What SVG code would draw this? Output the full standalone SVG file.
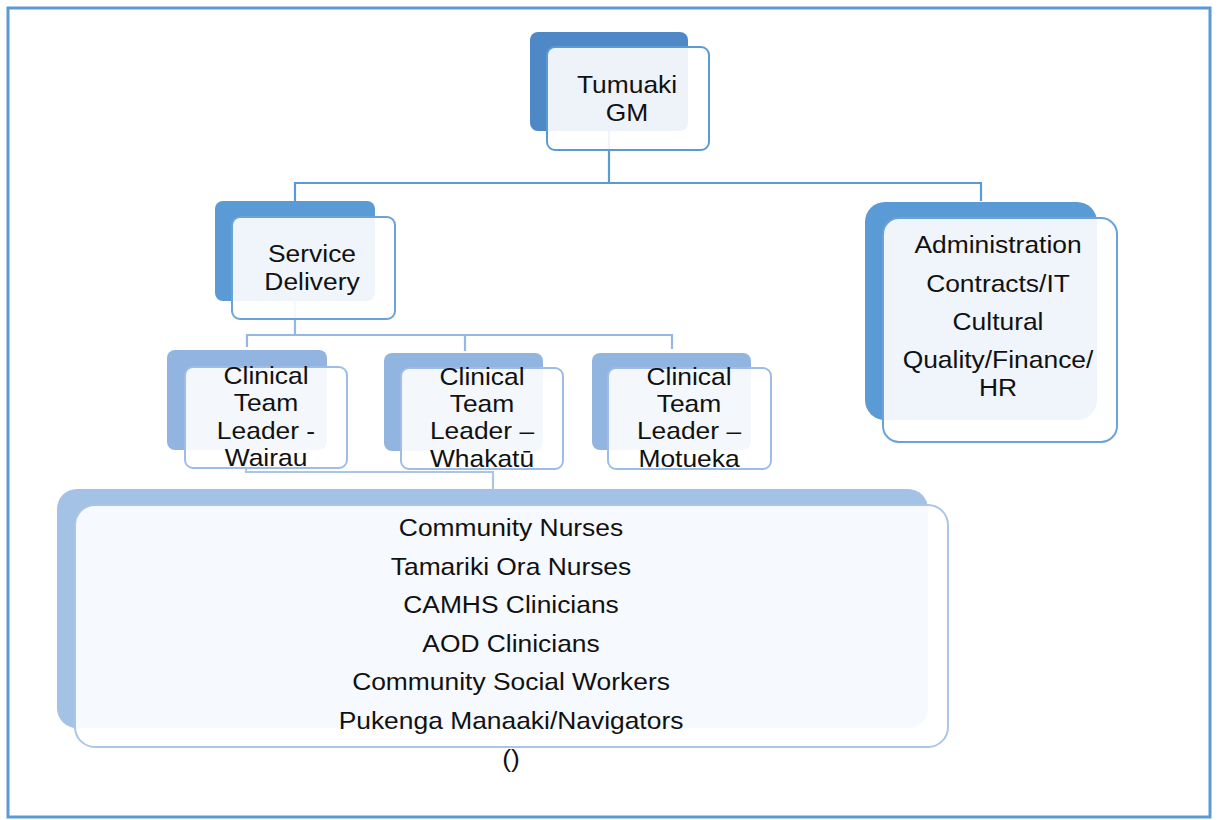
<svg xmlns="http://www.w3.org/2000/svg" width="1218" height="820" viewBox="0 0 1218 820">
  <style>
    .t { font-family: "Liberation Sans", Arial, sans-serif; font-size: 24px; fill: #111; text-anchor: middle; }
    .front { fill: #ffffff; fill-opacity: 0.9; stroke-width: 2; }
    .c1 { fill: none; stroke: #5b9bd5; stroke-width: 2.2; }
    .c2 { fill: none; stroke: #95b8e2; stroke-width: 2.2; }
    .c3 { fill: none; stroke: #a9c6e8; stroke-width: 2.2; }
  </style>

  <!-- frame -->
  <rect x="8" y="8" width="1202" height="809" fill="#ffffff" stroke="#5b9bd5" stroke-width="3"/>

  <!-- connectors -->
  <g id="connectors">
    <path class="c1" d="M609 131 V183 M295 201 V183 H981 V201"/>
    <path class="c2" d="M295 301 V335 M247 347 V335 H672 V349 M465 335 V351"/>
    <path class="c3" d="M246 450 V472 H493 V489"/>
  </g>

  <!-- Tumuaki GM -->
  <g id="node-gm">
    <rect x="530" y="32" width="158" height="99" rx="8" fill="#4f88c6"/>
    <rect class="front" x="547" y="47" width="162" height="103" rx="8" stroke="#5b9bd5"/>
    <text class="t" transform="translate(627 0) scale(1.1 1)"><tspan x="0" y="93">Tumuaki</tspan><tspan x="0" y="121">GM</tspan></text>
  </g>

  <!-- Service Delivery -->
  <g id="node-service">
    <rect x="215" y="201" width="160" height="100" rx="8" fill="#5b9bd5"/>
    <rect class="front" x="232" y="217" width="163" height="102" rx="8" stroke="#6aa2d9"/>
    <text class="t" transform="translate(312 0) scale(1.1 1)"><tspan x="0" y="262">Service</tspan><tspan x="0" y="290">Delivery</tspan></text>
  </g>

  <!-- Administration -->
  <g id="node-admin">
    <rect x="865" y="202" width="232" height="218" rx="20" fill="#5b9bd5"/>
    <rect class="front" x="883" y="218" width="234" height="224" rx="16" stroke="#6aa2d9"/>
    <text class="t" transform="translate(998 0) scale(1.1 1)"><tspan x="0" y="253">Administration</tspan><tspan x="0" y="292">Contracts/IT</tspan><tspan x="0" y="330">Cultural</tspan><tspan x="0" y="368">Quality/Finance/</tspan><tspan x="0" y="396">HR</tspan></text>
  </g>

  <!-- Clinical Team Leader - Wairau -->
  <g id="node-wairau">
    <rect x="167" y="350" width="160" height="100" rx="8" fill="#91b4e0"/>
    <rect class="front" x="185" y="367" width="162" height="101" rx="8" stroke="#9dbde6"/>
    <text class="t" transform="translate(266 0) scale(1.1 1)"><tspan x="0" y="384">Clinical</tspan><tspan x="0" y="411">Team</tspan><tspan x="0" y="439">Leader -</tspan><tspan x="0" y="466">Wairau</tspan></text>
  </g>

  <!-- Clinical Team Leader – Whakatū -->
  <g id="node-whakatu">
    <rect x="384" y="353" width="159" height="98" rx="8" fill="#91b4e0"/>
    <rect class="front" x="401" y="368" width="162" height="101" rx="8" stroke="#9dbde6"/>
    <text class="t" transform="translate(482 0) scale(1.1 1)"><tspan x="0" y="385">Clinical</tspan><tspan x="0" y="412">Team</tspan><tspan x="0" y="439">Leader –</tspan><tspan x="0" y="467">Whakatū</tspan></text>
  </g>

  <!-- Clinical Team Leader – Motueka -->
  <g id="node-motueka">
    <rect x="592" y="353" width="159" height="97" rx="8" fill="#91b4e0"/>
    <rect class="front" x="608" y="368" width="163" height="101" rx="8" stroke="#9dbde6"/>
    <text class="t" transform="translate(689 0) scale(1.1 1)"><tspan x="0" y="385">Clinical</tspan><tspan x="0" y="412">Team</tspan><tspan x="0" y="439">Leader –</tspan><tspan x="0" y="467">Motueka</tspan></text>
  </g>

  <!-- clinical staff -->
  <g id="node-staff">
    <rect x="57" y="489" width="871" height="239" rx="20" fill="#a4c2e5"/>
    <rect class="front" x="75" y="505" width="873" height="242" rx="20" stroke="#a9c6e8"/>
    <text class="t" transform="translate(511 0) scale(1.1 1)"><tspan x="0" y="536">Community Nurses</tspan><tspan x="0" y="575">Tamariki Ora Nurses</tspan><tspan x="0" y="613">CAMHS Clinicians</tspan><tspan x="0" y="652">AOD Clinicians</tspan><tspan x="0" y="690">Community Social Workers</tspan><tspan x="0" y="729">Pukenga Manaaki/Navigators</tspan><tspan x="0" y="767">()</tspan></text>
  </g>
</svg>
